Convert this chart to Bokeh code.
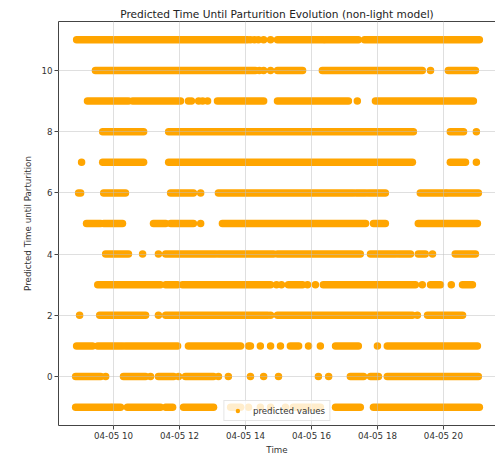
import numpy as np
from bokeh.plotting import figure
from bokeh.models import ColumnDataSource, Range1d, FixedTicker, DatetimeTickFormatter, LinearAxis
from bokeh.embed import file_html
from bokeh.resources import INLINE

DATE = "2023-04-05"
TITLE = "Predicted Time Until Parturition Evolution (non-light model)"
X_LABEL = "Time"
Y_LABEL = "Predicted Time until Parturition"
SERIES_LABEL = "predicted values"
X_TICK_HOURS = [10, 12, 14, 16, 18, 20]
Y_TICKS = [0, 2, 4, 6, 8, 10]

# hour-of-day spans where predictions are dense, and isolated predictions
RUNS_11 = [(8.88, 9.97), (10.06, 14.06), (14.97, 16.36), (16.42, 17.42), (17.61, 21.09)]
DOTS_11 = [14.15, 14.27, 14.39, 14.55, 14.76]
RUNS_10 = [(9.45, 14.30), (14.97, 15.73), (16.33, 19.36), (20.15, 20.97)]
DOTS_10 = [14.42, 14.55, 14.76, 19.61]
RUNS_9 = [(9.21, 10.45), (10.58, 12.03), (13.15, 14.55), (14.97, 17.12), (17.94, 20.91)]
DOTS_9 = [12.27, 12.36, 12.58, 12.70, 12.85, 17.39]
RUNS_8 = [(9.67, 10.91), (11.67, 19.09), (20.21, 20.61)]
DOTS_8 = [21.00]
RUNS_7 = [(9.67, 10.91), (11.67, 19.06), (20.21, 20.67)]
DOTS_7 = [9.03, 21.00]
RUNS_6 = [(8.94, 9.00), (9.70, 10.36), (11.73, 12.42), (13.18, 17.27), (17.36, 17.64),
          (17.73, 18.24), (19.30, 20.06), (20.12, 21.06)]
DOTS_6 = [12.64]
RUNS_5 = [(9.18, 9.61), (9.70, 10.27), (11.21, 11.58), (11.73, 12.42), (13.30, 17.64),
          (17.88, 18.24), (19.24, 21.03)]
DOTS_5 = [12.64]
RUNS_4 = [(9.76, 10.45), (11.58, 13.09), (13.18, 14.85), (14.97, 17.48), (17.79, 18.55),
          (18.64, 19.00), (19.24, 19.45), (20.36, 20.97)]
DOTS_4 = [10.88, 11.36, 19.67]
RUNS_3 = [(9.52, 11.42), (11.58, 11.94), (12.09, 14.76), (15.30, 15.73), (16.36, 19.15),
          (19.61, 19.91), (20.58, 20.88)]
DOTS_3 = [14.94, 15.09, 15.88, 16.12, 19.36, 20.24]
RUNS_2 = [(9.58, 10.97), (11.58, 14.67), (14.97, 19.06), (19.52, 20.58)]
DOTS_2 = [8.97, 11.36, 14.76, 19.21]
RUNS_1 = [(8.88, 9.36), (9.52, 10.27), (10.36, 11.94), (12.27, 13.85), (15.36, 15.61),
          (16.73, 17.42), (18.30, 21.03)]
DOTS_1 = [14.09, 14.15, 14.45, 14.76, 15.06, 15.91, 16.27, 18.00]
RUNS_0 = [(8.85, 9.61), (10.30, 10.97), (11.36, 11.82), (12.18, 13.03), (17.18, 17.58),
          (17.79, 18.03), (18.30, 21.06)]
DOTS_0 = [9.76, 11.12, 11.97, 13.18, 13.48, 14.15, 14.55, 15.00, 16.21, 16.52]
RUNS_M1 = [(8.85, 9.91), (9.97, 10.21), (10.42, 11.42), (11.58, 11.79), (12.12, 13.03),
           (13.55, 13.85), (15.45, 16.27), (16.73, 17.48), (17.88, 21.09)]
DOTS_M1 = [14.09, 14.45, 14.76, 15.21]

SERIES = [
    (11, RUNS_11, DOTS_11), (10, RUNS_10, DOTS_10), (9, RUNS_9, DOTS_9),
    (8, RUNS_8, DOTS_8), (7, RUNS_7, DOTS_7), (6, RUNS_6, DOTS_6),
    (5, RUNS_5, DOTS_5), (4, RUNS_4, DOTS_4), (3, RUNS_3, DOTS_3),
    (2, RUNS_2, DOTS_2), (1, RUNS_1, DOTS_1), (0, RUNS_0, DOTS_0),
    (-1, RUNS_M1, DOTS_M1),
]

BASE = np.datetime64(DATE + "T00:00:00")


def to_ms(hours):
    d = BASE + np.round(np.asarray(hours, dtype=float) * 3600000).astype("timedelta64[ms]")
    return d.astype("datetime64[ms]").astype("int64").astype(float)


seg = dict(x0=[], x1=[], y=[])
dot = dict(x=[], y=[])
for lvl, runs, dots in SERIES:
    for a, b in runs:
        seg["x0"].append(a)
        seg["x1"].append(b)
        seg["y"].append(lvl)
    for h in dots:
        dot["x"].append(h)
        dot["y"].append(lvl)
seg_src = ColumnDataSource(dict(x0=to_ms(seg["x0"]), x1=to_ms(seg["x1"]), y=seg["y"]))
dot_src = ColumnDataSource(dict(x=to_ms(dot["x"]), y=dot["y"]))

ORANGE = "#FFA500"
FONT = "DejaVu Sans"
TXT = "#333333"
SPINE = "#444444"

p = figure(width=495, height=457, output_backend="svg", toolbar_location=None,
           x_axis_type="datetime",
           x_range=Range1d(to_ms([8.33])[0], to_ms([21.58])[0]),
           y_range=Range1d(-1.6, 11.6),
           min_border_left=58, min_border_right=0, min_border_top=21, min_border_bottom=0)
p.outline_line_color = None
p.background_fill_color = "white"

p.title.text = TITLE
p.title.align = "center"
p.title.text_font = FONT
p.title.text_font_size = "10.6px"
p.title.text_font_style = "normal"
p.title.text_color = "#222222"
p.title.standoff = 3

xa = p.below[0]
ya = p.left[0]

p.segment(x0="x0", y0="y", x1="x1", y1="y", source=seg_src,
          line_color=ORANGE, line_width=7.5, line_cap="round")
p.scatter(x="x", y="y", source=dot_src, size=7.5, fill_color=ORANGE,
          line_color=ORANGE, line_width=0, legend_label=SERIES_LABEL)

xa.ticker = FixedTicker(ticks=list(to_ms(X_TICK_HOURS)))
fmt = "%m-%d %H"
xa.formatter = DatetimeTickFormatter(minutes=fmt, hourmin=fmt, hours=fmt, days=fmt,
                                     months=fmt, years=fmt)
ya.ticker = FixedTicker(ticks=Y_TICKS)

for ax in (xa, ya):
    ax.axis_line_color = SPINE
    ax.major_tick_line_color = SPINE
    ax.major_tick_out = 4
    ax.major_tick_in = 0
    ax.minor_tick_line_color = None
    ax.major_label_text_font = FONT
    ax.major_label_text_font_size = "8.7px"
    ax.major_label_text_color = TXT
    ax.major_label_standoff = 2
    ax.axis_label_text_font = FONT
    ax.axis_label_text_font_size = "8.7px"
    ax.axis_label_text_font_style = "normal"
    ax.axis_label_text_color = TXT

xa.axis_label = X_LABEL
xa.major_label_standoff = 1
xa.axis_label_standoff = 1
ya.axis_label = Y_LABEL
ya.axis_label_standoff = 5

for g in (p.xgrid[0], p.ygrid[0]):
    g.grid_line_color = "#c0c0c0"
    g.grid_line_alpha = 0.5
    g.grid_line_width = 1
    g.level = "guide"

top = LinearAxis(ticker=FixedTicker(ticks=[]), major_label_text_font_size="0px",
                 major_tick_out=0, major_tick_in=0, minor_tick_out=0, minor_tick_in=0,
                 major_label_standoff=0, axis_line_color=SPINE)
p.add_layout(top, "above")

lg = p.legend[0]
lg.location = "bottom_center"
lg.label_text_font = FONT
lg.label_text_font_size = "8.7px"
lg.label_text_color = TXT
lg.glyph_width = 18
lg.glyph_height = 11
lg.label_standoff = 7
lg.padding = 4
lg.margin = 4
lg.border_line_color = "#cccccc"
lg.background_fill_alpha = 0.8

open("out.html", "w").write(file_html(p, INLINE))
